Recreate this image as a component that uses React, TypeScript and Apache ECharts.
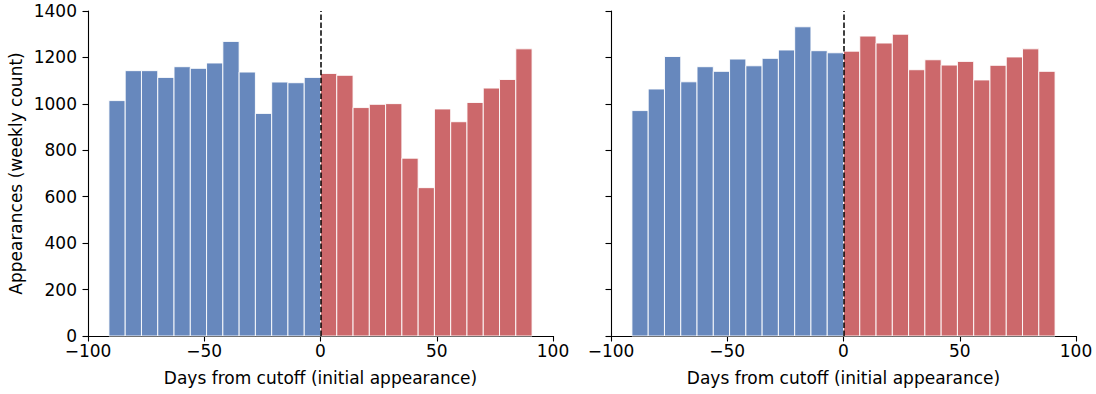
import React, { useEffect, useRef } from "react";
import * as echarts from "echarts";

const binWidth = 7;
const beforeBinStarts = [-91, -84, -77, -70, -63, -56, -49, -42, -35, -28, -21, -14, -7];
const afterBinStarts = [0, 7, 14, 21, 28, 35, 42, 49, 56, 63, 70, 77, 84];

const leftBefore = [1014, 1143, 1143, 1114, 1160, 1153, 1176, 1269, 1137, 959, 1094, 1091, 1114];
const leftAfter = [1131, 1123, 984, 998, 1001, 766, 639, 978, 923, 1006, 1068, 1105, 1237];
const rightBefore = [971, 1064, 1204, 1095, 1160, 1140, 1193, 1164, 1196, 1232, 1332, 1229, 1220];
const rightAfter = [1227, 1292, 1262, 1300, 1147, 1190, 1167, 1183, 1103, 1166, 1202, 1237, 1140];

const xTicks = [-100, -50, 0, 50, 100];
const yTicks = [0, 200, 400, 600, 800, 1000, 1200, 1400];

const xLabel = "Days from cutoff (initial appearance)";
const yLabel = "Appearances (weekly count)";

const BLUE = "#6788bd";
const RED = "#cc686b";
const FONT = "DejaVu Sans";
const FS = 17;

function toData(starts: number[], vals: number[]) {
  return starts.map((s, i) => [s, s + binWidth, vals[i]]);
}

function histSeries(idx: number, starts: number[], vals: number[], color: string, withLine: boolean) {
  const s: any = {
    type: "custom",
    xAxisIndex: idx,
    yAxisIndex: idx,
    data: toData(starts, vals),
    encode: { x: [0, 1], y: 2 },
    renderItem: (params: any, api: any) => {
      const p0 = api.coord([api.value(0), api.value(2)]);
      const p1 = api.coord([api.value(1), 0]);
      return {
        type: "rect",
        shape: { x: p0[0], y: p0[1], width: p1[0] - p0[0], height: p1[1] - p0[1] },
        style: { fill: color, stroke: "rgba(255,255,255,0.9)", lineWidth: 1 },
      };
    },
  };
  if (withLine) {
    s.markLine = {
      silent: true,
      symbol: "none",
      label: { show: false },
      lineStyle: { color: "#000", type: [5.5, 2.4], width: 1.5 },
      data: [{ xAxis: 0 }],
      z: 10,
    };
  }
  return s;
}

const fmtX = (v: number) => String(v).replace("-", "\u2212");
const fmtY = (v: number) => String(v);

const axisLineStyle = { color: "#000", width: 1.1 };

function xAxis(idx: number) {
  return {
    type: "value",
    gridIndex: idx,
    min: xTicks[0],
    max: xTicks[xTicks.length - 1],
    interval: 50,
    name: xLabel,
    nameLocation: "middle",
    nameGap: 33,
    nameTextStyle: { fontFamily: FONT, fontSize: FS, color: "#000" },
    axisLine: { show: true, onZero: false, lineStyle: axisLineStyle },
    axisTick: { show: true, inside: false, length: 5.5, lineStyle: axisLineStyle },
    axisLabel: { fontFamily: FONT, fontSize: FS, lineHeight: 13, color: "#000", margin: 8, formatter: fmtX },
    splitLine: { show: false },
  };
}

function yAxis(idx: number, showLabels: boolean) {
  return {
    type: "value",
    gridIndex: idx,
    min: yTicks[0],
    max: yTicks[yTicks.length - 1],
    interval: 200,
    name: showLabels ? yLabel : "",
    nameLocation: "middle",
    nameGap: 64,
    nameTextStyle: { fontFamily: FONT, fontSize: FS, color: "#000" },
    axisLine: { show: true, onZero: false, lineStyle: axisLineStyle },
    axisTick: { show: true, inside: false, length: 5.5, lineStyle: axisLineStyle },
    axisLabel: { show: showLabels, fontFamily: FONT, fontSize: FS, lineHeight: 13, color: "#000", margin: 11, formatter: fmtY },
    splitLine: { show: false },
  };
}

export default function App() {
  const ref = useRef<HTMLDivElement>(null);
  useEffect(() => {
    if (!ref.current) return;
    const chart = echarts.init(ref.current, undefined, { renderer: "svg" });
    chart.setOption({
      animation: false,
      backgroundColor: "#fff",
      grid: [
        { left: 88, right: 543, top: 11, bottom: 58 },
        { left: 611, right: 20, top: 11, bottom: 58 },
      ],
      xAxis: [xAxis(0), xAxis(1)],
      yAxis: [yAxis(0, true), yAxis(1, false)],
      series: [
        histSeries(0, beforeBinStarts, leftBefore, BLUE, false),
        histSeries(0, afterBinStarts, leftAfter, RED, true),
        histSeries(1, beforeBinStarts, rightBefore, BLUE, false),
        histSeries(1, afterBinStarts, rightAfter, RED, true),
      ],
    });
    return () => chart.dispose();
  }, []);
  return (
    <div
      ref={ref}
      style={{ position: "fixed", left: 0, top: 0, width: 1096, height: 394, background: "#fff" }}
    />
  );
}
